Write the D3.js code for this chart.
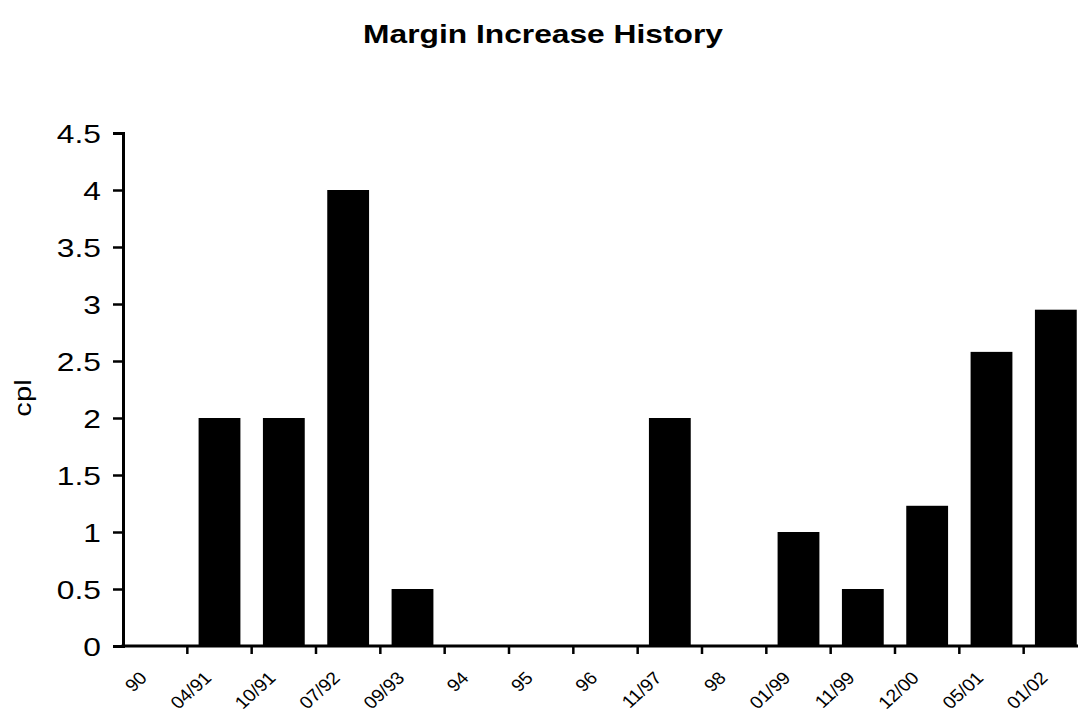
<!DOCTYPE html>
<html>
<head>
<meta charset="utf-8">
<script src="https://cdn.jsdelivr.net/npm/d3@7/dist/d3.min.js"></script>
<style>
  html, body { margin: 0; padding: 0; background: #fff; }
  svg { display: block; overflow: hidden; }
  text { font-family: "Liberation Sans", Arial, sans-serif; fill: #000; }
</style>
</head>
<body>
<svg id="chart" width="1078" height="715"></svg>
<script>
// Margin increases (cents per litre) by date of change
const categories = ["90", "04/91", "10/91", "07/92", "09/93", "94", "95", "96",
                    "11/97", "98", "01/99", "11/99", "12/00", "05/01", "01/02"];
const values = [0, 2, 2, 4, 0.5, 0, 0, 0, 2, 0, 1, 0.5, 1.23, 2.58, 2.95];
const yTicks = [0, 0.5, 1, 1.5, 2, 2.5, 3, 3.5, 4, 4.5];

const svg = d3.select("#chart");
const plotLeft = 123, plotRight = 1088, plotTop = 133, plotBottom = 646;
const wide = 1.27; // wide lettering for horizontal text

const x = d3.scaleBand().domain(categories).range([plotLeft, plotRight]).paddingInner(0.35).paddingOuter(0.175);
const xb = d3.scaleBand().domain(categories).range([plotLeft, plotRight]);
const y = d3.scaleLinear().domain([0, 4.5]).range([plotBottom, plotTop]);

// Title
svg.append("text")
  .attr("transform", `translate(543,43) scale(${wide},1)`)
  .attr("text-anchor", "middle")
  .style("font-size", "25px").style("font-weight", "bold")
  .text("Margin Increase History");

// Y axis title
svg.append("text")
  .attr("transform", `translate(31,398) rotate(-90) scale(${wide},1)`)
  .attr("text-anchor", "middle")
  .style("font-size", "23px")
  .text("cpl");

// Bars
svg.append("g").selectAll("rect")
  .data(values)
  .join("rect")
  .attr("x", (d, i) => x(categories[i]))
  .attr("width", x.bandwidth())
  .attr("y", d => y(d))
  .attr("height", d => y(0) - y(d))
  .attr("fill", "#000");

// Y axis
const yAxis = d3.axisLeft(y).tickValues(yTicks).tickFormat(d3.format("")).tickSizeOuter(0).tickSize(10);
const gy = svg.append("g").attr("transform", `translate(${plotLeft},0)`).call(yAxis);
gy.select(".domain").attr("stroke", "#000").attr("stroke-width", 3);
gy.selectAll(".tick line").attr("stroke", "#000").attr("stroke-width", 2.5);
gy.selectAll(".tick text")
  .attr("x", 0)
  .attr("dy", "0.36em")
  .attr("transform", `translate(-22,0) scale(${wide},1)`)
  .style("font-size", "25px");

// X axis baseline with ticks at category boundaries
const gx = svg.append("g");
gx.append("line")
  .attr("x1", plotLeft - 1.5).attr("x2", plotRight)
  .attr("y1", plotBottom).attr("y2", plotBottom)
  .attr("stroke", "#000").attr("stroke-width", 3);
gx.selectAll(".bt")
  .data(categories)
  .join("line")
  .attr("x1", d => xb(d) + xb.bandwidth())
  .attr("x2", d => xb(d) + xb.bandwidth())
  .attr("y1", plotBottom).attr("y2", plotBottom + 8)
  .attr("stroke", "#000").attr("stroke-width", 2.5);

// Rotated category labels, slanted at 45 degrees
gx.selectAll(".lbl")
  .data(categories)
  .join("text")
  .attr("text-anchor", "end")
  .attr("transform", d => `translate(${xb(d) + xb.bandwidth() / 2 - 7},${plotBottom + 33}) scale(1.1,1) rotate(-45)`)
  .style("font-size", "17.5px")
  .text(d => d);
</script>
</body>
</html>
